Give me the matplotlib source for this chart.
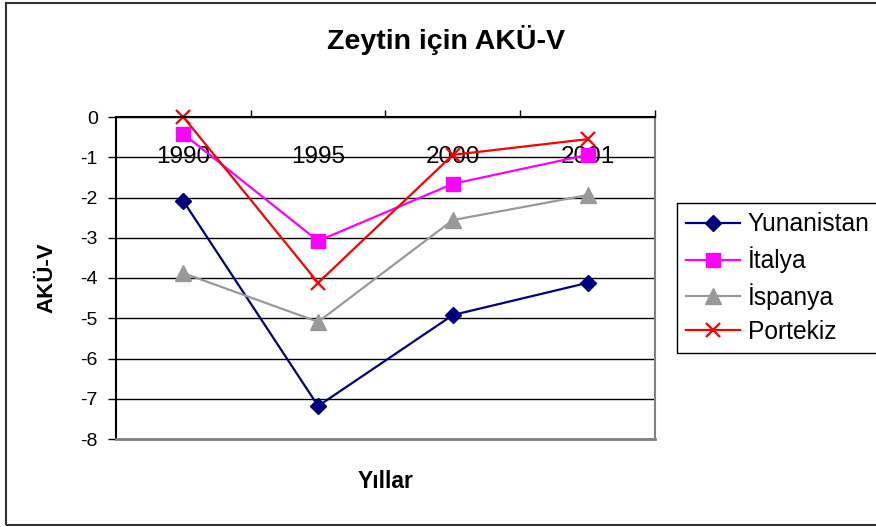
import numpy as np
import matplotlib
matplotlib.use("Agg")
import matplotlib.pyplot as plt
from matplotlib.patches import Rectangle

# ======================
# DATA
# ======================
years = ["1990", "1995", "2000", "2001"]
yunanistan = [-2.09, -7.18, -4.92, -4.12]
italya = [-0.42, -3.08, -1.66, -0.94]
ispanya = [-3.88, -5.09, -2.56, -1.94]
portekiz = [0.0, -4.12, -0.94, -0.55]

plt.rcParams["font.family"] = ["Liberation Sans", "DejaVu Sans"]
plt.rcParams["axes.unicode_minus"] = False

fig = plt.figure(figsize=(8.76, 5.27), dpi=100)
ax = fig.add_axes([116 / 876, 1 - 439 / 527, (655 - 116) / 876, (439 - 117) / 527])

x = np.arange(len(years))
ax.plot(x, yunanistan, color="#000080", lw=1.6, marker="D", ms=8.5, label="Yunanistan", clip_on=False)
ax.plot(x, italya, color="#FF00FF", lw=1.6, marker="s", ms=10, label="İtalya", clip_on=False)
ax.plot(x, ispanya, color="#999999", lw=1.6, marker="^", ms=11, label="İspanya", clip_on=False)
ax.plot(x, portekiz, color="#FF0000", lw=1.6, marker="x", ms=10, mew=1.6, label="Portekiz", clip_on=False)

ax.set_xlim(-0.5, len(years) - 0.5)
ax.set_ylim(-8, 0)
ax.set_yticks(np.arange(-8, 1, 1))
ax.grid(axis="y", color="black", lw=1)

# category axis sits at y = 0 (top of the plot)
ax.xaxis.tick_top()
ax.set_xticks(x)
ax.set_xticklabels(years, fontsize=17.5)
ax.tick_params(axis="x", which="major", length=0, pad=-37)
ax.set_xticks(list(x + 0.5), minor=True)
ax.tick_params(axis="x", which="minor", top=True, direction="out", length=5, width=1)
ax.tick_params(axis="y", direction="out", length=6, width=1, labelsize=14, pad=7)

for side in ["top", "left"]:
    ax.spines[side].set_color("black")
    ax.spines[side].set_linewidth(1.5)
ax.spines["bottom"].set_color("#808080")
ax.spines["bottom"].set_linewidth(2)
ax.spines["right"].set_color("#808080")
ax.spines["right"].set_linewidth(1.5)

fig.text(446 / 876, 1 - 40 / 527, "Zeytin için AKÜ-V", fontsize=20.5, fontweight="bold",
         ha="center", va="center")
fig.text(47 / 876, 1 - 278 / 527, "AKÜ-V", fontsize=16, fontweight="bold",
         rotation=90, ha="center", va="center")
fig.text(386 / 876, 1 - 481 / 527, "Yıllar", fontsize=16.5, fontweight="bold",
         ha="center", va="center")

leg = ax.legend(loc="upper left", bbox_to_anchor=(677 / 876, 1 - 203 / 527),
                bbox_transform=fig.transFigure, fontsize=17.7, frameon=True,
                fancybox=False, framealpha=1, edgecolor="black",
                handlelength=2.2, handletextpad=0.3, labelspacing=0.41,
                borderpad=0.38, borderaxespad=0)
leg.get_frame().set_linewidth(1)

# chart area border
fig.patches.append(Rectangle((6 / 876, 2 / 527), 1.0, 522 / 527, transform=fig.transFigure,
                             fill=False, edgecolor="#333333", lw=1.5))

plt.savefig("out.png", dpi=100)
